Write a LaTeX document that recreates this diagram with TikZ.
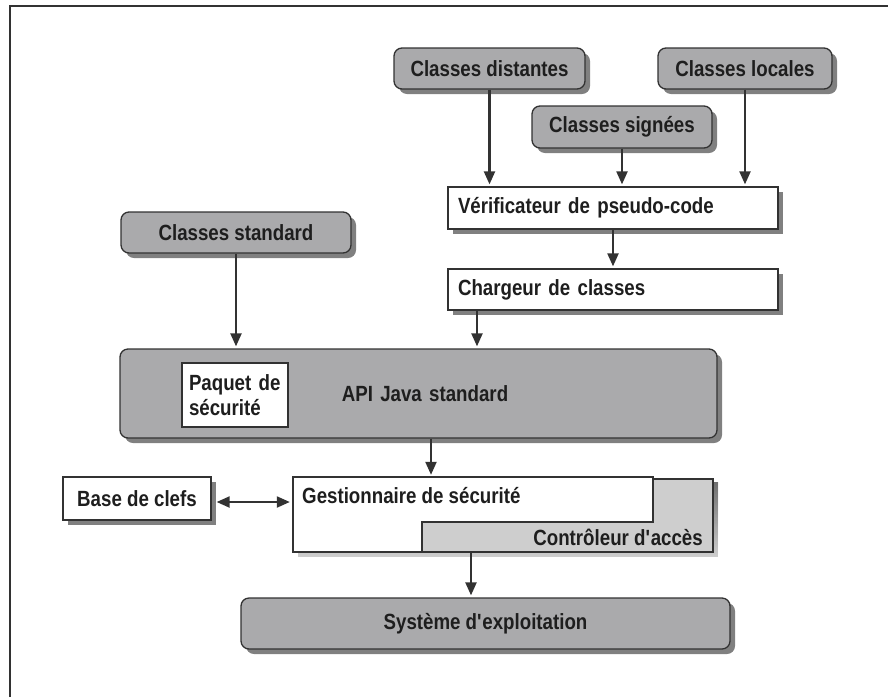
\documentclass[tikz,border=0pt]{standalone}
\usepackage{fontspec}
\setmainfont{Liberation Sans}[FakeStretch=0.85]
\usetikzlibrary{arrows.meta,shadows,calc}

\definecolor{boxgray}{RGB}{170,170,172}
\definecolor{lightgray}{RGB}{206,206,206}
\definecolor{edge}{RGB}{50,50,50}
\definecolor{ink}{RGB}{30,30,30}
\definecolor{shade}{RGB}{85,85,85}

\begin{document}
\begin{tikzpicture}[x=1pt,y=-1pt,
  boxbase/.style={draw=edge, line width=1.3pt, text=ink, inner sep=0pt,
    font=\bfseries\fontsize{22}{25}\selectfont},
  shadowed/.style={drop shadow={shadow xshift=5pt, shadow yshift=-5pt,
    fill=shade, opacity=0.75}},
  source/.style={boxbase, rounded corners=8pt, fill=boxgray, shadowed},
  plainbox/.style={boxbase, fill=white, shadowed},
  label/.style={text=ink, inner sep=0pt, font=\bfseries\fontsize{22}{25}\selectfont},
  arr/.style={-{Triangle[width=11pt,length=13pt]}, line width=2.2pt, draw=edge,
    shorten >=2pt},
  dblarr/.style={{Triangle[width=11pt,length=13pt]}-{Triangle[width=11pt,length=13pt]},
    line width=2.2pt, draw=edge, shorten >=3pt, shorten <=5pt}]

\useasboundingbox (0,0) rectangle (888,697);

% outer frame (open at right and bottom)
\draw[edge, line width=2pt] (10,697) -- (10,6) -- (888,6);

% class sources
\node[source, minimum width=191, minimum height=41] (dist) at (489.5,68.5) {Classes distantes};
\node[source, minimum width=174, minimum height=41] (loc)  at (745,68.5)   {Classes locales};
\node[source, minimum width=180, minimum height=42] (sign) at (622,127)    {Classes signées};
\node[source, minimum width=230, minimum height=41] (std)  at (236,232.5)  {Classes standard};

% verifier and class loader
\node[plainbox, minimum width=330, minimum height=42, text width=310, align=left]
  (verif) at (613,208) {Vérificateur de pseudo-code};
\node[plainbox, minimum width=330, minimum height=41, text width=310, align=left]
  (charg) at (613,289.5) {Chargeur de classes};

% standard Java API with the security package
\node[source, minimum width=597, minimum height=89, text width=580, align=center]
  (api) at (418.5,393.5) {\hspace*{13pt}API Java standard};
\node[boxbase, fill=white, minimum width=106, minimum height=64, text width=92, align=left]
  (paq) at (235,395) {Paquet de\\sécurité};

% key store
\node[plainbox, minimum width=148, minimum height=43] (keys) at (137,498.5) {Base de clefs};

% security manager with access controller
\node[inner sep=0pt, minimum width=420, minimum height=75] (gest) at (503,514.5) {};
\fill[shade, opacity=0.75] (298,482) rectangle (718,557);
\node[boxbase, fill=lightgray, minimum width=291, minimum height=73] (ctrl) at (567.5,515.5) {};
\draw[edge, line width=1.3pt, fill=white]
  (293,477) -- (653,477) -- (653,522) -- (422,522) -- (422,552) -- (293,552) -- cycle;
\node[label, anchor=base west] (gestlbl) at (302,503) {Gestionnaire de sécurité};
\node[label, anchor=base east] (ctrllbl) at (703,545) {Contrôleur d\textquotesingle accès};

% operating system
\node[source, minimum width=489, minimum height=51] (os) at (485.5,623.5) {Système d\textquotesingle exploitation};

% connectors
\draw[arr] (dist.south) -- (dist.south |- verif.north);
\draw[arr] (sign.south) -- (sign.south |- verif.north);
\draw[arr] (loc.south) -- (loc.south |- verif.north);
\draw[arr] (verif.south) -- (charg.north);
\coordinate (c1) at ([xshift=-136pt]charg.south);
\draw[arr] (c1) -- (c1 |- api.north);
\draw[arr] (std.south) -- (std.south |- api.north);
\coordinate (a1) at ([xshift=12.5pt]api.south);
\draw[arr] (a1) -- (a1 |- gest.north);
\coordinate (g1) at ([xshift=-32pt]gest.south);
\draw[arr] (g1) -- (g1 |- os.north);
\coordinate (k1) at ([yshift=-3.5pt]keys.east);
\draw[dblarr] (k1) -- (k1 -| gest.west);
\end{tikzpicture}
\end{document}
